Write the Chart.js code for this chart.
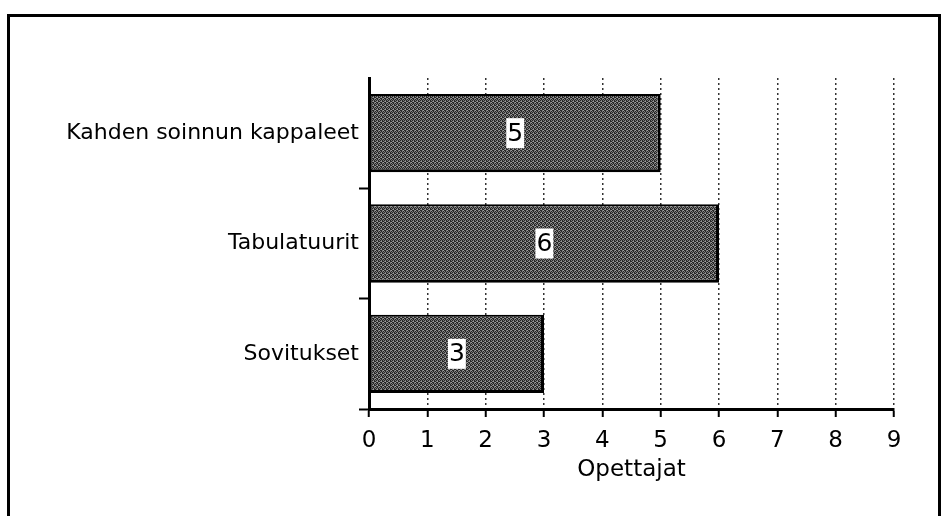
<!DOCTYPE html>
<html>
<head>
<meta charset="utf-8">
<script src="https://cdn.jsdelivr.net/npm/chart.js@4.4.0/dist/chart.umd.min.js"></script>
<style>
  html, body { margin: 0; padding: 0; background: #fff; }
  #wrap { position: relative; width: 949px; height: 516px; overflow: hidden; }
  #frame { position: absolute; left: 7px; top: 14px; width: 934px; height: 600px;
           border: 3px solid #000; box-sizing: border-box; pointer-events: none; }
  canvas { position: absolute; left: 0; top: 0; }
</style>
</head>
<body>
<div id="wrap">
  <canvas id="chart" width="949" height="516"></canvas>
  <div id="frame"></div>
</div>
<script>
// data
var categories = ['Kahden soinnun kappaleet', 'Tabulatuurit', 'Sovitukset'];
var teachers = [5, 6, 3];
var xTicks = [0, 1, 2, 3, 4, 5, 6, 7, 8, 9];
var xTitle = 'Opettajat';

// stippled grey fill like the printed original
function makePattern() {
    var c = document.createElement('canvas');
    c.width = 4; c.height = 4;
    var g = c.getContext('2d');
    g.fillStyle = '#7a7a7a';
    g.fillRect(0, 0, 4, 4);
    g.fillStyle = '#262626';
    g.fillRect(0, 0, 1, 1); g.fillRect(2, 1, 1, 1);
    g.fillRect(1, 2, 1, 1); g.fillRect(3, 3, 1, 1);
    g.fillRect(2, 0, 1, 1); g.fillRect(0, 2, 1, 1);
    g.fillRect(3, 1, 1, 1); g.fillRect(1, 3, 1, 1);
    g.fillStyle = '#a0a0a0';
    g.fillRect(1, 1, 1, 1); g.fillRect(3, 2, 1, 1);
    return g.createPattern(c, 'repeat');
}

var valueLabels = {
    id: 'valueLabels',
    afterDatasetsDraw: function(chart) {
        var ctx = chart.ctx;
        var meta = chart.getDatasetMeta(0);
        ctx.save();
        ctx.font = '25px "DejaVu Sans"';
        ctx.textAlign = 'center';
        ctx.textBaseline = 'middle';
        meta.data.forEach(function(bar, i) {
            var txt = String(teachers[i]);
            var cx = (bar.x + bar.base) / 2;
            var cy = bar.y;
            var w = ctx.measureText(txt).width + 2;
            ctx.fillStyle = '#fff';
            ctx.fillRect(cx - w / 2, cy - 15, w, 30);
            ctx.fillStyle = '#000';
            ctx.fillText(txt, cx, cy + 1);
        });
        ctx.restore();
    }
};

var ctx = document.getElementById('chart');
var barChart = new Chart(ctx, {
    type: 'bar',
    data: {
        labels: categories,
        datasets: [{
            label: xTitle,
            data: teachers,
            backgroundColor: makePattern(),
            borderColor: '#000',
            borderWidth: {top: 2, left: 2, right: 3, bottom: 3},
            borderSkipped: false,
            barPercentage: 0.71,
            categoryPercentage: 1
        }]
    },
    options: {
        indexAxis: 'y',
        responsive: false,
        animation: false,
        layout: { padding: { top: 78, right: 55, left: 0, bottom: 0 } },
        plugins: {
            legend: { display: false },
            tooltip: { enabled: false }
        },
        scales: {
            x: {
                min: 0,
                max: 9,
                afterBuildTicks: function(scale) {
                    scale.ticks = xTicks.map(function(v) { return {value: v}; });
                },
                afterFit: function(scale) { scale.height = 107; },
                border: { display: true, color: '#000', width: 3, dash: [2, 3] },
                grid: {
                    color: function(c) { return c.index === 0 ? 'rgba(0,0,0,0)' : '#333'; },
                    lineWidth: 1.5,
                    drawTicks: true,
                    tickLength: 8,
                    tickColor: '#000',
                    tickWidth: 2,
                    tickBorderDash: []
                },
                ticks: {
                    color: '#000',
                    padding: 10,
                    font: { family: 'DejaVu Sans', size: 23 }
                },
                title: {
                    display: true,
                    text: xTitle,
                    color: '#000',
                    font: { family: 'DejaVu Sans', size: 23 },
                    padding: { top: 0, bottom: 32 }
                }
            },
            y: {
                afterFit: function(scale) { scale.width = 369; },
                border: { display: true, color: '#000', width: 3 },
                grid: {
                    offset: true,
                    drawOnChartArea: false,
                    drawTicks: true,
                    tickLength: 10,
                    tickWidth: 2,
                    tickColor: function(c) { return c.index === 0 ? 'rgba(0,0,0,0)' : '#000'; }
                },
                ticks: {
                    color: '#000',
                    padding: 0,
                    font: { family: 'DejaVu Sans', size: 22 }
                }
            }
        }
    },
    plugins: [valueLabels]
});
</script>
</body>
</html>
